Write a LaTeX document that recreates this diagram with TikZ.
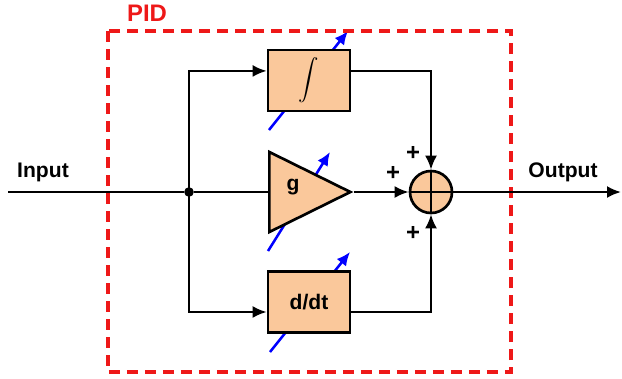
\documentclass[tikz,border=0pt]{standalone}
\usepackage{fontspec}
\setmainfont{Liberation Sans}
\usetikzlibrary{shapes.geometric, arrows.meta, positioning, calc, backgrounds}
\definecolor{blockorange}{RGB}{250,200,155}
\definecolor{pidred}{RGB}{238,24,24}

\begin{document}
\begin{tikzpicture}[
    x=0.025cm, y=-0.025cm,
    font=\bfseries\fontsize{15}{18}\selectfont,
    block/.style={rectangle, draw, line width=1.9pt, fill=blockorange, minimum width=2.05cm, minimum height=1.52cm, inner sep=0pt},
    gainblock/.style={isosceles triangle, isosceles triangle stretches, shape border rotate=0, draw, line width=1.9pt, fill=blockorange, minimum width=2cm, minimum height=2.025cm, inner sep=0pt, anchor=west},
    sumblock/.style={circle, draw, line width=1.9pt, fill=blockorange, minimum size=1.05cm, inner sep=0pt},
    wire/.style={line width=1.6pt},
    arrow/.style={wire, -{Latex[length=3.5mm, width=3mm]}},
    tune/.style={line width=1.8pt, blue, -{Latex[length=3.4mm, width=3mm]}},
    pidbox/.style={draw=pidred, line width=2.3pt, dash pattern=on 7.8pt off 5pt},
    sign/.style={font=\bfseries\fontsize{17}{18}\selectfont}
]
    \useasboundingbox (0,0) rectangle (622,378);

    % PID frame
    \draw[pidbox] (108,31) rectangle (511,372);
    \node[text=pidred, font=\bfseries\fontsize{17}{20}\selectfont] (pidlabel) at (147,13) {PID};

    % Nodes
    \node[circle, fill, inner sep=0pt, minimum size=0.24cm] (junc) at (189,192) {};
    \node[block] (integ) at (309,80.5) {\scalebox{1.45}{$\displaystyle\int$}};
    \node[gainblock] (gain) at (268,192) {};
    \node (glabel) at (293,187) {g};
    \node[block] (diff) at (309,302) {d/dt};
    \node[sumblock] (sum) at (431,192) {};
    \draw[wire] (sum.north) -- (sum.south) (sum.west) -- (sum.east);

    % Input / output
    \coordinate (in) at (8,192);
    \coordinate (out) at (621,192);
    \node (inlabel) at (43,172) {Input};
    \node (outlabel) at (563,172) {Output};

    % Arrows
    \draw[wire] (in) -- (junc);
    \draw[arrow] (junc.center) |- ([yshift=6.8pt]integ.west);
    \draw[wire] (junc) -- (gain.west);
    \draw[arrow] (junc.center) |- ([yshift=-7.1pt]diff.west);
    \draw[arrow] ([yshift=6.8pt]integ.east) -| (sum.north);
    \draw[arrow] (gain.apex) -- (sum.west);
    \draw[arrow] ([yshift=-7.1pt]diff.east) -| (sum.south);
    \draw[arrow] (sum) -- (out);

    % Signs
    \node[sign] (plustop) at (413,153) {+};
    \node[sign] (plusmid) at (393,173) {+};
    \node[sign] (plusbot) at (413,233) {+};

    % Tuning arrows (behind blocks)
    \begin{scope}[on background layer]
        \draw[tune] (269,130) -- (348,31);
        \draw[tune] (268,251) -- (330,152);
        \draw[tune] (270,352) -- (350,252);
    \end{scope}
\end{tikzpicture}
\end{document}
